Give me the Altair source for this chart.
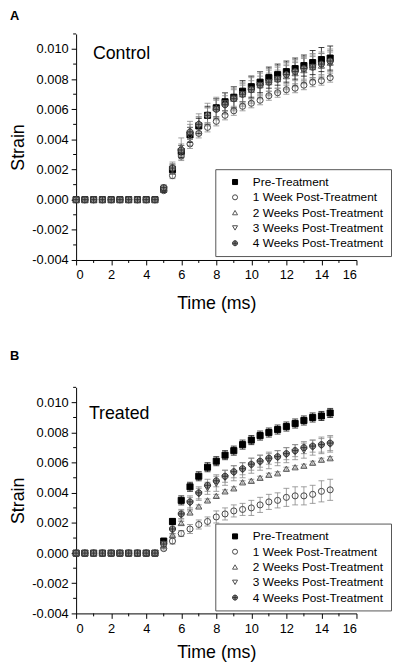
import altair as alt
import pandas as pd

# ---------------- data ----------------
times = [0.0, 0.5, 1.0, 1.5, 2.0, 2.5, 3.0, 3.5, 4.0, 4.5,
         5.0, 5.5, 6.0, 6.5, 7.0, 7.5, 8.0, 8.5, 9.0, 9.5,
         10.0, 10.5, 11.0, 11.5, 12.0, 12.5, 13.0, 13.5, 14.0, 14.5]

series_names = ["Pre-Treatment", "1 Week Post-Treatment", "2 Weeks Post-Treatment",
                "3 Weeks Post-Treatment", "4 Weeks Post-Treatment"]

# Panel A (Control)
A_pre = [0, 0, 0, 0, 0, 0, 0, 0, 0, 0,
         0.0007, 0.0020, 0.0032, 0.0043, 0.0049, 0.0056, 0.0061, 0.0065, 0.0068, 0.0072,
         0.0075, 0.0078, 0.0081, 0.0083, 0.0085, 0.0087, 0.0089, 0.0091, 0.0093, 0.0094]
A_w1 = [0, 0, 0, 0, 0, 0, 0, 0, 0, 0,
        0.0006, 0.0016, 0.0029, 0.0037, 0.0044, 0.0048, 0.0052, 0.0056, 0.0059, 0.0062,
        0.0064, 0.0066, 0.0069, 0.0071, 0.0073, 0.0074, 0.0076, 0.0078, 0.0079, 0.0081]
A_w2 = [0, 0, 0, 0, 0, 0, 0, 0, 0, 0,
        0.0007, 0.0022, 0.0035, 0.0046, 0.0051, 0.0057, 0.0061, 0.0064, 0.0067, 0.0070,
        0.0073, 0.0076, 0.0078, 0.0080, 0.0082, 0.0084, 0.0086, 0.0088, 0.0089, 0.0091]
A_w3 = [0, 0, 0, 0, 0, 0, 0, 0, 0, 0,
        0.0007, 0.0020, 0.0031, 0.0042, 0.0049, 0.0055, 0.0060, 0.0064, 0.0067, 0.0070,
        0.0073, 0.0076, 0.0078, 0.0080, 0.0082, 0.0084, 0.0086, 0.0088, 0.0089, 0.0090]
A_w4 = [0, 0, 0, 0, 0, 0, 0, 0, 0, 0,
        0.0008, 0.0021, 0.0033, 0.0045, 0.0050, 0.0056, 0.0060, 0.0063, 0.0067, 0.0070,
        0.0073, 0.0076, 0.0078, 0.0080, 0.0083, 0.0085, 0.0087, 0.0088, 0.0090, 0.0092]

A_pre_err = [0, 0, 0, 0, 0, 0, 0, 0, 0, 0,
             0.0002, 0.0003, 0.0004, 0.0005, 0.0005, 0.0006, 0.0006, 0.0006, 0.0007, 0.0007,
             0.0007, 0.0007, 0.0007, 0.0007, 0.0007, 0.0007, 0.0007, 0.0008, 0.0008, 0.0008]
A_w1_err = [0, 0, 0, 0, 0, 0, 0, 0, 0, 0,
            0.0001, 0.0002, 0.0002, 0.0003, 0.0003, 0.0003, 0.0003, 0.0003, 0.0003, 0.0003,
            0.0003, 0.0003, 0.0003, 0.0003, 0.0003, 0.0003, 0.0003, 0.0003, 0.0003, 0.0003]
A_w2_err = [0, 0, 0, 0, 0, 0, 0, 0, 0, 0,
            0.0002, 0.0003, 0.0006, 0.0006, 0.0006, 0.0007, 0.0007, 0.0007, 0.0008, 0.0008,
            0.0009, 0.0009, 0.0009, 0.0009, 0.0009, 0.0009, 0.0009, 0.0009, 0.0009, 0.0009]
A_w3_err = [0, 0, 0, 0, 0, 0, 0, 0, 0, 0,
            0.0002, 0.0003, 0.0005, 0.0006, 0.0006, 0.0006, 0.0007, 0.0007, 0.0007, 0.0007,
            0.0008, 0.0008, 0.0008, 0.0008, 0.0008, 0.0008, 0.0008, 0.0008, 0.0008, 0.0008]
A_w4_err = [0, 0, 0, 0, 0, 0, 0, 0, 0, 0,
            0.0002, 0.0003, 0.0004, 0.0005, 0.0005, 0.0005, 0.0006, 0.0006, 0.0006, 0.0006,
            0.0006, 0.0006, 0.0006, 0.0006, 0.0006, 0.0006, 0.0007, 0.0007, 0.0007, 0.0007]

# Panel B (Treated)
B_pre = [0, 0, 0, 0, 0, 0, 0, 0, 0, 0,
         0.0008, 0.0021, 0.0035, 0.0044, 0.0051, 0.0057, 0.0061, 0.0065, 0.0068, 0.0072,
         0.0075, 0.0078, 0.0080, 0.0082, 0.0084, 0.0086, 0.0088, 0.0090, 0.0091, 0.0093]
B_w1 = [0, 0, 0, 0, 0, 0, 0, 0, 0, 0,
        0.0003, 0.0008, 0.0013, 0.0016, 0.0019, 0.0021, 0.0024, 0.0026, 0.0028, 0.0029,
        0.0030, 0.0032, 0.0034, 0.0035, 0.0037, 0.0038, 0.0038, 0.0039, 0.0041, 0.0042]
B_w2 = [0, 0, 0, 0, 0, 0, 0, 0, 0, 0,
        0.0005, 0.0012, 0.0020, 0.0027, 0.0031, 0.0035, 0.0038, 0.0041, 0.0043, 0.0047,
        0.0048, 0.0050, 0.0052, 0.0053, 0.0056, 0.0057, 0.0058, 0.0060, 0.0062, 0.0063]
B_w3 = [0, 0, 0, 0, 0, 0, 0, 0, 0, 0,
        0.0006, 0.0015, 0.0025, 0.0033, 0.0039, 0.0043, 0.0046, 0.0050, 0.0053, 0.0055,
        0.0058, 0.0060, 0.0061, 0.0063, 0.0065, 0.0067, 0.0068, 0.0070, 0.0071, 0.0072]
B_w4 = [0, 0, 0, 0, 0, 0, 0, 0, 0, 0,
        0.0006, 0.0016, 0.0026, 0.0034, 0.0040, 0.0045, 0.0048, 0.0051, 0.0054, 0.0056,
        0.0059, 0.0061, 0.0063, 0.0064, 0.0066, 0.0068, 0.0070, 0.0071, 0.0072, 0.0073]

B_pre_err = [0, 0, 0, 0, 0, 0, 0, 0, 0, 0,
             0.0001, 0.0002, 0.0003, 0.0003, 0.0003, 0.0003, 0.0003, 0.0003, 0.0003, 0.0003,
             0.0003, 0.0003, 0.0003, 0.0003, 0.0003, 0.0003, 0.0003, 0.0003, 0.0003, 0.0003]
B_w1_err = [0, 0, 0, 0, 0, 0, 0, 0, 0, 0,
            0.0001, 0.0002, 0.0002, 0.0003, 0.0003, 0.0003, 0.0004, 0.0004, 0.0004, 0.0004,
            0.0005, 0.0005, 0.0005, 0.0005, 0.0006, 0.0006, 0.0006, 0.0006, 0.0007, 0.0007]
B_w2_err = [0, 0, 0, 0, 0, 0, 0, 0, 0, 0,
            0.0001, 0.0001, 0.0001, 0.0001, 0.0001, 0.0001, 0.0001, 0.0001, 0.0001, 0.0001,
            0.0001, 0.0001, 0.0001, 0.0001, 0.0001, 0.0001, 0.0001, 0.0001, 0.0001, 0.0001]
B_w3_err = [0, 0, 0, 0, 0, 0, 0, 0, 0, 0,
            0.0002, 0.0003, 0.0003, 0.0004, 0.0004, 0.0004, 0.0005, 0.0005, 0.0005, 0.0005,
            0.0005, 0.0005, 0.0005, 0.0005, 0.0005, 0.0005, 0.0005, 0.0005, 0.0005, 0.0005]
B_w4_err = [0, 0, 0, 0, 0, 0, 0, 0, 0, 0,
            0.0002, 0.0003, 0.0003, 0.0004, 0.0004, 0.0004, 0.0004, 0.0004, 0.0004, 0.0004,
            0.0004, 0.0004, 0.0004, 0.0004, 0.0004, 0.0004, 0.0004, 0.0004, 0.0005, 0.0005]

# axis tick positions
x_major = [0, 2, 4, 6, 8, 10, 12, 14, 16]
x_minor = [1, 3, 5, 7, 9, 11, 13, 15]
y_major = [-0.004, -0.002, 0.0, 0.002, 0.004, 0.006, 0.008, 0.010]
y_minor = [-0.003, -0.001, 0.001, 0.003, 0.005, 0.007, 0.009, 0.011]

# annotations
panel_letters = ["A", "B"]
panel_labels = ["Control", "Treated"]
panel_label_t = [0.96, 0.73]
panel_label_strain = [0.00969, 0.00921]

# ---------------- styling ----------------
FONT = "Liberation Sans"
W, H = 284, 229
shape_range = ["square", "circle", "triangle-up", "triangle-down",
               "M-1,0A1,1,0,1,1,1,0A1,1,0,1,1,-1,0ZM-1,0L1,0M0,-1L0,1"]
stroke_range = ["#000000", "#444444", "#555555", "#4a4a4a", "#333333"]
fill_range = ["#000000", "transparent", "transparent", "transparent", "#8c8c8c"]
bar_range = ["#111111", "#888888", "#888888", "#888888", "#888888"]

xscale = alt.Scale(domain=[0, 16], nice=False)
yscale = alt.Scale(domain=[-0.004, 0.011], nice=False, zero=False)
yaxis = alt.Axis(values=y_major, tickSize=5, labelPadding=3, titlePadding=4,
                 labelOverlap=False,
                 labelExpr="replace(format(datum.value, '.3f'), '\u2212', '-')")


def long_df(vals, errs):
    rows = []
    for k, (name, v_list, e_list) in enumerate(zip(series_names, vals, errs)):
        for t, v, e in zip(times, v_list, e_list):
            rows.append({"t": t, "strain": v, "lo": v - e, "hi": v + e,
                         "series": name, "k": k})
    return pd.DataFrame(rows)


def panel(df, letter, label, lt, ls, legend_y, title_offset, x_title_pad):
    xaxis = alt.Axis(values=x_major, format="d", tickSize=5, labelPadding=4,
                     titlePadding=x_title_pad, labelOverlap=False)

    def X(field="t"):
        return alt.X(f"{field}:Q", scale=xscale, title="Time (ms)", axis=xaxis)

    def Y(field="strain"):
        return alt.Y(f"{field}:Q", scale=yscale, title="Strain", axis=yaxis)

    base = alt.Chart(df)
    bar_color = alt.Color("series:N", scale=alt.Scale(domain=series_names, range=bar_range),
                          legend=None)
    bars = base.mark_rule(strokeWidth=0.8).encode(
        x=X(), y=Y("lo"), y2="hi:Q", color=bar_color)
    cap_shape = "M-1,0L1,0"
    cap_lo = base.mark_point(shape=cap_shape, size=36, filled=False, strokeWidth=0.8,
                             opacity=1).encode(x=X(), y=Y("lo"), color=bar_color)
    cap_hi = base.mark_point(shape=cap_shape, size=36, filled=False, strokeWidth=0.8,
                             opacity=1).encode(x=X(), y=Y("hi"), color=bar_color)
    legend = alt.Legend(orient="none", legendX=141, legendY=legend_y, title=None,
                        labelFont=FONT, labelFontSize=12, labelColor="black",
                        symbolSize=26, symbolStrokeWidth=1, padding=7,
                        symbolOffset=7, labelOffset=12, rowPadding=3.5,
                        strokeColor="#555555", fillColor="white")
    pts = base.mark_point(size=38, strokeWidth=1, opacity=1).encode(
        x=X(), y=Y(),
        shape=alt.Shape("series:N", scale=alt.Scale(domain=series_names, range=shape_range),
                        legend=legend),
        fill=alt.Fill("series:N", scale=alt.Scale(domain=series_names, range=fill_range),
                      legend=legend),
        stroke=alt.Stroke("series:N", scale=alt.Scale(domain=series_names, range=stroke_range),
                          legend=legend),
        order=alt.Order("k:Q"),
    )
    xm = alt.Chart(pd.DataFrame({"t": x_minor})).mark_rule(color="black").encode(
        x=X(), y=alt.value(H), y2=alt.value(H + 3))
    ym = alt.Chart(pd.DataFrame({"strain": y_minor})).mark_rule(color="black").encode(
        y=Y(), x=alt.value(0), x2=alt.value(-3))
    txt = alt.Chart(pd.DataFrame({"t": [lt], "strain": [ls], "label": [label]})).mark_text(
        align="left", baseline="middle", font=FONT, fontSize=18, color="black").encode(
        x=X(), y=Y(), text="label:N")
    return alt.layer(bars, cap_lo, cap_hi, pts, xm, ym, txt).properties(
        width=W, height=H,
        title=alt.TitleParams(letter, anchor="start", frame="bounds", font=FONT,
                              fontSize=13, fontWeight="bold", color="black",
                              offset=title_offset))


dfA = long_df([A_pre, A_w1, A_w2, A_w3, A_w4],
              [A_pre_err, A_w1_err, A_w2_err, A_w3_err, A_w4_err])
dfB = long_df([B_pre, B_w1, B_w2, B_w3, B_w4],
              [B_pre_err, B_w1_err, B_w2_err, B_w3_err, B_w4_err])

pA = panel(dfA, panel_letters[0], panel_labels[0], panel_label_t[0], panel_label_strain[0],
           137, 11, 13)
pB = panel(dfB, panel_letters[1], panel_labels[1], panel_label_t[1], panel_label_strain[1],
           138, 24, 9)

chart = alt.vconcat(pA, pB, spacing=38).resolve_legend(
    shape="independent", fill="independent", stroke="independent"
).properties(
    padding={"left": 2, "top": -3, "right": 0, "bottom": 0}
).configure_view(stroke=None).configure_axis(
    grid=False, domainColor="black", tickColor="black", labelColor="black",
    titleColor="black", labelFont=FONT, titleFont=FONT, labelFontSize=13,
    titleFontSize=18, titleFontWeight="normal", domainWidth=1, tickWidth=1
)

chart.save("out.html", embed_options={"renderer": "svg", "actions": False})
